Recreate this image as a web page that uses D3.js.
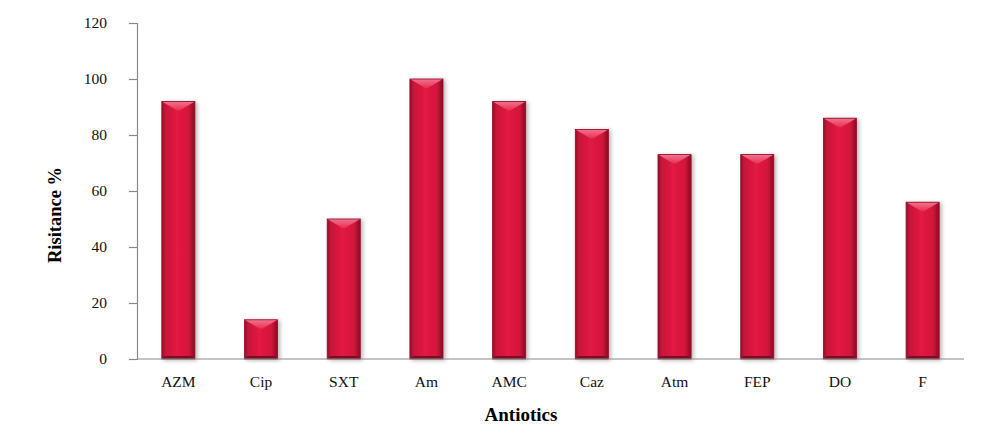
<!DOCTYPE html>
<html><head><meta charset="utf-8">
<script src="https://cdn.jsdelivr.net/npm/d3@7"></script>
<style>body{margin:0;background:#fff}svg{display:block}</style>
</head><body>
<svg id="c" width="1000" height="435"></svg>
<script>
const categories = ["AZM","Cip","SXT","Am","AMC","Caz","Atm","FEP","DO","F"];
const values = [92,14,50,100,92,82,73,73,86,56];
const yTicks = [0,20,40,60,80,100,120];

const svg = d3.select("#c");
const m = {l:137, r:36, t:23, b:76};
const W = 1000, H = 435;
const x = d3.scaleBand().domain(categories).range([m.l, W-m.r]).paddingInner(0.6).paddingOuter(0.3);
const y = d3.scaleLinear().domain([0,120]).range([H-m.b, m.t]);

const defs = svg.append("defs");
const g1 = defs.append("linearGradient").attr("id","bodyG").attr("x1","0").attr("x2","1").attr("y1","0").attr("y2","0");
[[0,"#9c0f2a"],[0.12,"#c8143a"],[0.45,"#e21a42"],[0.8,"#d4163c"],[1,"#8c0c24"]].forEach(([o,c])=>g1.append("stop").attr("offset",o).attr("stop-color",c));
const g2 = defs.append("linearGradient").attr("id","topG").attr("x1","0").attr("x2","0").attr("y1","0").attr("y2","1");
[[0,"#f27490"],[1,"#e8304f"]].forEach(([o,c])=>g2.append("stop").attr("offset",o).attr("stop-color",c));
const f = defs.append("filter").attr("id","sh").attr("x","-30%").attr("y","-10%").attr("width","160%").attr("height","120%");
f.append("feGaussianBlur").attr("in","SourceAlpha").attr("stdDeviation",2);
f.append("feOffset").attr("dx",2).attr("dy",1).attr("result","b");
f.append("feComponentTransfer").append("feFuncA").attr("type","linear").attr("slope",0.3);
const mg = f.append("feMerge"); mg.append("feMergeNode"); mg.append("feMergeNode").attr("in","SourceGraphic");

// axes
const yAxis = d3.axisLeft(y).tickValues(yTicks).tickSize(8).tickPadding(22);
const ya = svg.append("g").attr("transform",`translate(${m.l},0)`).call(yAxis);
ya.select(".domain").attr("stroke","#8a8a8a").attr("stroke-width",1.2);
ya.selectAll(".tick line").attr("stroke","#8a8a8a").attr("stroke-width",1.2);
ya.selectAll(".tick text").attr("font-family","Liberation Serif, serif").attr("font-size",15.5).attr("fill","#111");

const bars = svg.append("g").selectAll("g").data(categories).join("g").attr("filter","url(#sh)");
const bw = x.bandwidth();
bars.each(function(c,i){
  const gx = d3.select(this);
  const x0 = x(c), y0 = y(values[i]), y1 = y(0), b = Math.min(9, (y1-y0)/3);
  gx.append("rect").attr("x",x0).attr("y",y0).attr("width",bw).attr("height",y1-y0).attr("fill","url(#bodyG)");
  gx.append("polygon").attr("points",`${x0},${y0} ${x0+bw},${y0} ${x0+bw-b*1.7},${y0+b} ${x0+b*1.7},${y0+b}`).attr("fill","url(#topG)");
  gx.append("polygon").attr("points",`${x0},${y1} ${x0+bw},${y1} ${x0+bw-3},${y1-3} ${x0+3},${y1-3}`).attr("fill","#7a0a20");
  gx.append("rect").attr("x",x0).attr("y",y0).attr("width",bw).attr("height",y1-y0).attr("fill","none").attr("stroke","#8a0c26").attr("stroke-width",0.8);
});

const xAxis = d3.axisBottom(x).tickSize(0).tickPadding(17);
const xa = svg.append("g").attr("transform",`translate(0,${y(0)})`).call(xAxis);
xa.select(".domain").attr("stroke","#8a8a8a").attr("stroke-width",1.2).attr("d",`M${m.l},0H${W-m.r}`);
xa.selectAll(".tick text").attr("font-family","Liberation Serif, serif").attr("font-size",15.5).attr("fill","#111");

svg.append("text").attr("x",521).attr("y",421).attr("text-anchor","middle")
  .attr("font-family","Liberation Serif, serif").attr("font-weight","bold").attr("font-size",19).text("Antiotics");
svg.append("text").attr("transform",`translate(61,215) rotate(-90)`).attr("text-anchor","middle")
  .attr("font-family","Liberation Serif, serif").attr("font-weight","bold").attr("font-size",18.5).text("Risitance %");
</script>
</body></html>
